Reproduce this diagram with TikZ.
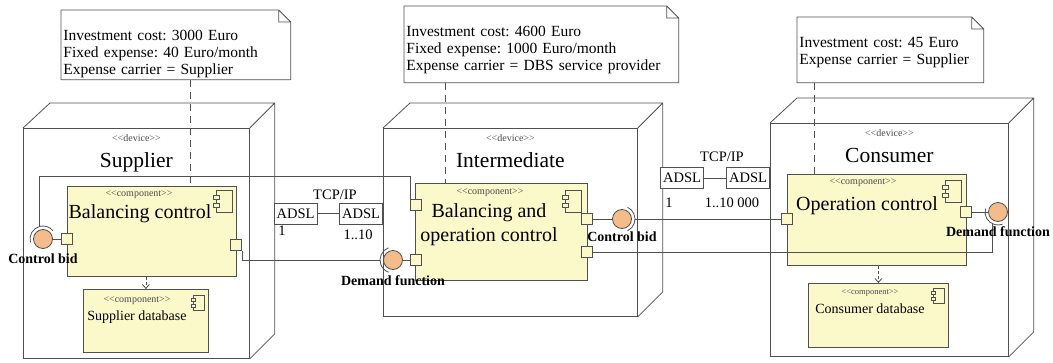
\documentclass[tikz,border=0pt]{standalone}
\usepackage{fontspec}
\setmainfont{Liberation Serif}
\usetikzlibrary{arrows.meta}
\definecolor{compfill}{RGB}{251,248,202}
\definecolor{ballfill}{RGB}{244,188,138}
\definecolor{umlline}{RGB}{80,80,80}
\newcommand{\stereotype}[1]{\textless\kern0pt\textless\kern0pt#1\kern0pt\textgreater\kern0pt\textgreater}
\tikzset{
  devbox/.style={draw=umlline,fill=white,anchor=north west,inner sep=0pt},
  compbox/.style={draw=umlline,fill=compfill,anchor=north west,inner sep=0pt},
  portbox/.style={draw=umlline,fill=compfill,minimum size=11pt,inner sep=0pt},
  ball/.style={circle,draw=umlline,fill=ballfill,minimum size=19pt,inner sep=0pt},
  adsl/.style={draw=umlline,fill=white,minimum width=43pt,minimum height=21pt,inner sep=0pt,font=\fontsize{14.5}{16}\selectfont},
  notetext/.style={anchor=north west,align=left,inner xsep=2pt,inner ysep=0pt,text height=30pt,font=\fontsize{15.5}{17}\selectfont},
  notebox/.style={draw=umlline},
  noteline/.style={draw=umlline,dash pattern=on 7pt off 5pt},
  wire/.style={draw=umlline},
  socket/.style={draw=umlline},
  dep/.style={draw=umlline,dash pattern=on 3pt off 2pt,-{Straight Barb[length=4pt,width=7pt]}},
  stereo/.style={inner sep=0pt,text=black!70,font=\fontsize{10}{12}\selectfont},
  devname/.style={inner sep=0pt,font=\fontsize{21.5}{24}\selectfont},
  compname/.style={inner sep=0pt,align=center,font=\fontsize{20}{24}\selectfont},
  dbname/.style={inner sep=0pt,font=\fontsize{14}{16}\selectfont},
  iflabel/.style={inner sep=0pt,font=\bfseries\fontsize{14}{16}\selectfont},
  mult/.style={inner sep=0pt,font=\fontsize{14.5}{16}\selectfont},
  compicon/.pic={
    \draw[umlline,fill=compfill] (-8,-11) rectangle (8,11);
    \draw[umlline,fill=compfill] (-11,-6) rectangle (-5,-2);
    \draw[umlline,fill=compfill] (-11,2) rectangle (-5,6);
  }
}
\begin{document}
\frenchspacing
\begin{tikzpicture}[x=1pt,y=-1pt,line width=0.8pt]
    \useasboundingbox (0,0) rectangle (1053,362);
    \node[devbox,minimum width=226pt,minimum height=230pt] (sup) at (23,128) {};
    \node[devbox,minimum width=254pt,minimum height=188pt] (mid) at (383,128) {};
    \node[devbox,minimum width=238pt,minimum height=233pt] (con) at (770,123) {};
    \foreach \dev in {sup,mid,con}{
        \draw[umlline] (\dev.north west) -- ++(27,-25) -- ([shift={(25,-25)}]\dev.north east) -- ([shift={(25,-25)}]\dev.south east) -- (\dev.south east)
            (\dev.north east) -- ([shift={(25,-25)}]\dev.north east);
    }
    \node[stereo] (supst) at ([yshift=-10pt]sup.north) {\stereotype{device}};
    \node[devname] (supnm) at ([yshift=-34pt]sup.north) {Supplier};
    \node[stereo] (midst) at ([yshift=-10pt]mid.north) {\stereotype{device}};
    \node[devname] (midnm) at ([yshift=-32pt]mid.north) {Intermediate};
    \node[stereo] (const) at ([yshift=-10pt]con.north) {\stereotype{device}};
    \node[devname] (connm) at ([yshift=-32pt]con.north) {Consumer};

    \node[notetext,text width=225pt,text depth=39pt] (nsup) at (61,10) {Investment cost: 3000 Euro\\Fixed expense: 40 Euro/month\\Expense carrier = Supplier};
    \node[notetext,text width=270pt,text depth=46pt] (nmid) at (404,6) {Investment cost: 4600 Euro\\Fixed expense: 1000 Euro/month\\Expense carrier = DBS service provider};
    \node[notetext,text width=182pt,text depth=35pt] (ncon) at (797,17) {Investment cost: 45 Euro\\Expense carrier = Supplier};
    \foreach \n in {nsup,nmid,ncon}{
        \draw[notebox] (\n.north west) -- ([xshift=-12pt]\n.north east) -- ([yshift=-12pt]\n.north east) -- (\n.south east) -- (\n.south west) -- cycle
            ([xshift=-12pt]\n.north east) |- ([yshift=-12pt]\n.north east);
    }

    \node[compbox,minimum width=169pt,minimum height=90pt] (bc) at (67,186) {};
    \node[compbox,minimum width=172pt,minimum height=97pt] (bo) at (415,183) {};
    \node[compbox,minimum width=179pt,minimum height=91pt] (oc) at (787,174) {};
    \node[compbox,minimum width=125pt,minimum height=63pt] (sdb) at (83,289) {};
    \node[compbox,minimum width=140pt,minimum height=64pt] (cdb) at (808,283) {};
    \pic at ([xshift=-12.5pt,yshift=-15.5pt]bc.north east) {compicon};
    \pic at ([xshift=-14pt,yshift=-18pt]bo.north east) {compicon};
    \pic at ([xshift=-13pt,yshift=-17pt]oc.north east) {compicon};
    \pic[scale=0.7] at ([xshift=-10pt,yshift=-14pt]sdb.north east) {compicon};
    \pic[scale=0.7] at ([xshift=-10pt,yshift=-13pt]cdb.north east) {compicon};

    \coordinate (dsup) at ([xshift=14.5pt]nsup.south);
    \coordinate (dmid) at ([xshift=-96pt]nmid.south);
    \coordinate (dcon) at ([xshift=-76pt]ncon.south);
    \draw[noteline] (dsup) -- (dsup |- bc.north);
    \draw[noteline] (dmid) -- (dmid |- bo.north);
    \draw[noteline] (dcon) -- (dcon |- oc.north);

    \node[stereo] (bcst) at (139,195) {\stereotype{component}};
    \node[compname] (bcnm) at (140,214) {Balancing control};
    \node[stereo] (bost) at (490,193) {\stereotype{component}};
    \node[compname] (bonm) at (489,225) {Balancing and\\operation control};
    \node[stereo] (ocst) at (863,183) {\stereotype{component}};
    \node[compname] (ocnm) at (867,206) {Operation control};
    \node[stereo] (sdbst) at (137,301) {\stereotype{component}};
    \node[dbname] (sdbnm) at (137,317) {Supplier database};
    \node[stereo,font=\fontsize{8.5}{10}\selectfont] (cdbst) at (870,293) {\stereotype{component}};
    \node[dbname] (cdbnm) at (870,309) {Consumer database};
    \draw[dep] (bc.south -| sdb.north) -- (sdb.north);
    \draw[dep] (oc.south -| cdb.north) -- (cdb.north);

    \node[portbox] (pS1) at (67,239) {};
    \node[portbox] (pS2) at (236,245) {};
    \node[portbox] (pM1) at (416,205) {};
    \node[portbox] (pM2) at (416,260) {};
    \node[portbox] (pM3) at (587,219) {};
    \node[portbox] (pM4) at (587,252) {};
    \node[portbox] (pC1) at (787,219) {};
    \node[portbox] (pC2) at (966,212) {};
    \node[ball] (bS) at (43,239) {};
    \node[ball] (bM1) at (393,260) {};
    \node[ball] (bM2) at (622,219) {};
    \node[ball] (bC) at (998,212) {};
    \draw[wire] (bS) -- (pS1);
    \draw[wire] (bM1) -- (pM2);
    \draw[wire] (bM2) -- (pM3);
    \draw[wire] (bC) -- (pC2);

    \draw[socket] ([shift={(195:13pt)}]bS.center) arc[start angle=195,end angle=40,radius=13pt];
    \draw[socket] ([shift={(110:13pt)}]bM1.center) arc[start angle=110,end angle=250,radius=13pt];
    \draw[socket] ([shift={(-65:13pt)}]bM2.center) arc[start angle=-65,end angle=65,radius=13pt];
    \draw[socket] ([shift={(165:13pt)}]bC.center) arc[start angle=165,end angle=290,radius=13pt];
    \coordinate (sS) at ([shift={(108:13pt)}]bS.center);
    \coordinate (sM1) at ([shift={(180:13pt)}]bM1.center);
    \coordinate (sM2) at ([shift={(0:13pt)}]bM2.center);
    \coordinate (sC) at ([shift={(242:13pt)}]bC.center);
    \coordinate (wTop) at (sS |- 0,176);
    \draw[wire] (pM1.north west) |- (wTop) -- (sS);
    \draw[wire] (pS2.south east) |- (sM1);
    \draw[wire] (sM2) -- (pC1.west);
    \draw[wire] (pM4.east) -| (sC);

    \node[iflabel] (lS) at ([yshift=-20pt]bS.center) {Control bid};
    \node[iflabel] (lM1) at ([yshift=-21pt]bM1.center) {Demand function};
    \node[iflabel] (lM2) at ([yshift=-18pt]bM2.center) {Control bid};
    \node[iflabel] (lC) at ([yshift=-20pt]bC.center) {Demand function};

    \node[adsl] (a1) at (295.5,213.5) {ADSL};
    \node[adsl] (a2) at (361,213.5) {ADSL};
    \node[adsl] (a3) at (682,178) {ADSL};
    \node[adsl] (a4) at (748,178) {ADSL};
    \draw[wire] (a1) -- (a2);
    \draw[wire] (a3) -- (a4);
    \node[mult] (tcp1) at (335,195) {TCP/IP};
    \node[mult] (tcp2) at (722,157) {TCP/IP};
    \node[mult] (m1) at (282,231) {1};
    \node[mult] (m2) at (358,235) {1..10};
    \node[mult] (m3) at (669,203) {1};
    \node[mult] (m4) at (732,203) {1..10 000};
\end{tikzpicture}
\end{document}
